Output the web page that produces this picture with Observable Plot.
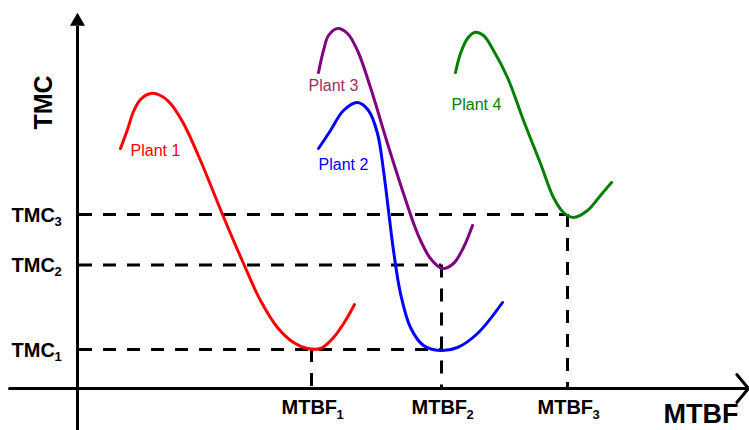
<!DOCTYPE html>
<html><head><meta charset="utf-8">
<script src="https://cdn.jsdelivr.net/npm/d3@7"></script>
<script src="https://cdn.jsdelivr.net/npm/@observablehq/plot@0.6"></script>
<style>body{margin:0;background:#fff}</style>
</head><body><div id="chart"></div>
<script>
// Series (arbitrary units: MTBF along x, TMC along y)
const plantNames = ["Plant 1", "Plant 2", "Plant 3", "Plant 4"];
const plantColors = ["#ff0000", "#0000ff", "#800080", "#008000"];
const plantLabelColors = ["#ff0000", "#0000ff", "#993366", "#008000"];

const plant1MTBF = [4.3, 5.0, 5.6, 6.3, 7.3, 8.3, 9.3, 10.6, 12.3, 14.5, 16.6, 18.3, 20.0, 21.6, 23.0, 24.3, 25.6, 26.8, 27.7];
const plant1TMC  = [24.0, 25.9, 27.7, 28.9, 29.5, 29.3, 28.5, 26.5, 22.8, 17.4, 12.5, 8.8, 6.1, 4.6, 4.0, 4.0, 5.1, 6.8, 8.4];

const plant2MTBF = [24.1, 25.3, 26.6, 28.0, 29.1, 30.0, 30.6, 31.1, 31.6, 32.3, 33.3, 34.6, 36.3, 38.0, 40.0, 42.5];
const plant2TMC  = [24.0, 25.8, 27.8, 28.6, 27.8, 25.5, 21.8, 17.8, 13.8, 9.5, 6.1, 4.3, 3.8, 4.1, 5.5, 8.6];

const plant3MTBF = [24.1, 24.6, 25.1, 26.0, 27.0, 28.0, 29.3, 31.0, 32.6, 34.0, 35.3, 36.5, 37.6, 38.6, 39.5];
const plant3TMC  = [31.6, 33.8, 35.3, 36.0, 35.5, 33.8, 30.1, 24.5, 19.5, 15.5, 13.0, 12.0, 12.5, 14.1, 16.3];

const plant4MTBF = [37.8, 38.3, 39.0, 39.7, 40.6, 41.6, 43.0, 44.6, 46.3, 47.6, 48.6, 49.6, 51.0, 52.3, 53.4];
const plant4TMC  = [31.6, 33.5, 35.0, 35.6, 35.3, 33.8, 31.1, 26.8, 22.5, 19.1, 17.6, 17.1, 17.8, 19.3, 20.6];

// Series label anchors (data units)
const labelMTBF = [5.3, 24.1, 23.1, 37.4];
const labelTMC  = [23.3, 21.9, 29.8, 27.9];

// Reference levels and tick labels
const tmcLevels  = [3.9, 12.35, 17.4];
const mtbfLevels = [23.4, 36.4, 49.0];
const tmcTickText  = ["TMC", "TMC", "TMC"];
const mtbfTickText = ["MTBF", "MTBF", "MTBF"];
const tickSubs = ["1", "2", "3"];
// which MTBF level each TMC dashed line runs to
const tmcLineEndIndex = [1, 1, 2];

// Axis extents
const xAxisRange = [-6.8, 67.1];
const yAxisRange = [-4.2, 36.2];
const yArrowTip = [36.7];
const axisTitleTMCPos = [28.6];

const plantsX = [plant1MTBF, plant2MTBF, plant3MTBF, plant4MTBF];
const plantsY = [plant1TMC, plant2TMC, plant3TMC, plant4TMC];
const rows = plantNames.flatMap((p, i) => plantsX[i].map((x, j) => ({plant: p, mtbf: x, tmc: plantsY[i][j]})));
const labels = plantNames.map((p, i) => ({plant: p, mtbf: labelMTBF[i], tmc: labelTMC[i], color: plantLabelColors[i]}));
const hLines = tmcLevels.map((t, i) => ({tmc: t, x1: 0.2, x2: mtbfLevels[tmcLineEndIndex[i]]}));
const vLines = mtbfLevels.map((m, i) => ({mtbf: m, y1: tmcLevels[i], y2: 0}));
const tmcTicks = tmcLevels.map((t, i) => ({tmc: t, text: tmcTickText[i], sub: tickSubs[i]}));
const mtbfTicks = mtbfLevels.map((m, i) => ({mtbf: m, text: mtbfTickText[i], sub: tickSubs[i]}));

const font = "Liberation Sans, Arial, sans-serif";
const dash = {stroke: "black", strokeWidth: 3, strokeDasharray: "13,11"};

const chart = Plot.plot({
  width: 749,
  height: 430,
  margin: 0,
  style: {background: "white", fontFamily: font},
  x: {domain: [-7.7, 67.2], range: [0, 749], axis: null},
  y: {domain: [-4.2, 38.8], range: [430, 0], axis: null},
  color: {domain: plantNames, range: plantColors},
  marks: [
    // dashed reference lines
    Plot.ruleY(hLines, {y: "tmc", x1: "x1", x2: "x2", ...dash}),
    Plot.ruleX(vLines, {x: "mtbf", y1: "y1", y2: "y2", ...dash}),
    // axes
    Plot.arrow([{x1: xAxisRange[0], x2: xAxisRange[1]}], {x1: "x1", x2: "x2", y1: () => 0, y2: () => 0, stroke: "black", strokeWidth: 3, headLength: 9, headAngle: 100}),
    Plot.ruleX([0], {y1: yAxisRange[0], y2: yAxisRange[1], stroke: "black", strokeWidth: 3}),
    Plot.dot(yArrowTip, {x: () => 0, y: d => d, symbol: "triangle", r: 5.6, fill: "black", stroke: "none"}),
    // curves
    Plot.line(rows, {x: "mtbf", y: "tmc", z: "plant", stroke: "plant", strokeWidth: 3, curve: "catmull-rom"}),
    // series labels
    Plot.text(labels, {x: "mtbf", y: "tmc", text: "plant", fill: "color", fontSize: 16, fontFamily: font, textAnchor: "start", lineAnchor: "bottom"}),
    // TMC tick labels
    Plot.text(tmcTicks, {x: () => xAxisRange[0], y: "tmc", text: "text", fontSize: 20, fontWeight: "bold", fontFamily: font, textAnchor: "start", lineAnchor: "bottom", dx: 2, dy: 7, fill: "black"}),
    Plot.text(tmcTicks, {x: () => xAxisRange[0], y: "tmc", text: "sub", fontSize: 13, fontWeight: "bold", fontFamily: font, textAnchor: "start", lineAnchor: "bottom", dx: 45, dy: 11, fill: "black"}),
    // MTBF tick labels
    Plot.text(mtbfTicks, {x: "mtbf", y: () => 0, text: "text", fontSize: 20, fontWeight: "bold", fontFamily: font, textAnchor: "start", lineAnchor: "bottom", dx: -30, dy: 25, fill: "black"}),
    Plot.text(mtbfTicks, {x: "mtbf", y: () => 0, text: "sub", fontSize: 13, fontWeight: "bold", fontFamily: font, textAnchor: "start", lineAnchor: "bottom", dx: 25, dy: 30, fill: "black"}),
    // axis titles
    Plot.text(["MTBF"], {x: () => xAxisRange[1], y: () => 0, text: d => d, fontSize: 27, fontWeight: "bold", fontFamily: font, textAnchor: "end", lineAnchor: "bottom", dx: -10, dy: 34, fill: "black"}),
    Plot.text(axisTitleTMCPos, {x: () => 0, y: d => d, text: () => "TMC", fontSize: 25, fontWeight: "bold", fontFamily: font, rotate: -90, textAnchor: "middle", lineAnchor: "middle", dx: -34, fill: "black"})
  ]
});
document.getElementById("chart").appendChild(chart);
</script>
</body></html>
